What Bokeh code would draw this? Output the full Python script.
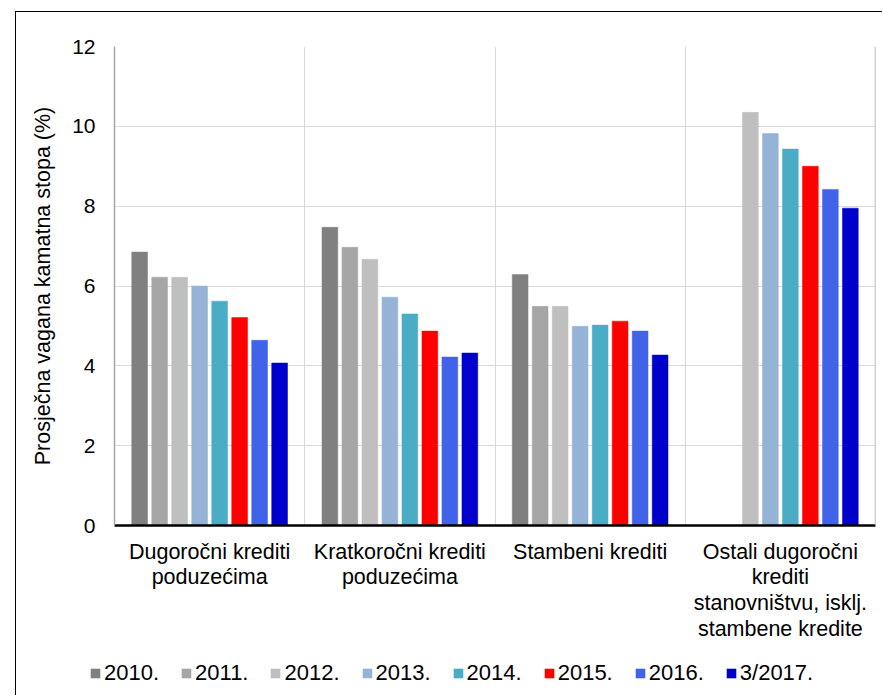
from bokeh.plotting import figure
from bokeh.models import Range1d, FixedTicker, Legend, LegendItem, Span
from bokeh.layouts import column
from bokeh.embed import file_html
from bokeh.resources import INLINE

nan = float("nan")

categories = [
    "Dugoročni krediti\npoduzećima",
    "Kratkoročni krediti\npoduzećima",
    "Stambeni krediti",
    "Ostali dugoročni\nkrediti\nstanovništvu, isklj.\nstambene kredite",
]
years = ["2010.", "2011.", "2012.", "2013.", "2014.", "2015.", "2016.", "3/2017."]

v2010 = [6.85, 7.47, 6.29, nan]
v2011 = [6.22, 6.97, 5.49, nan]
v2012 = [6.22, 6.67, 5.49, 10.35]
v2013 = [6.00, 5.72, 4.99, 9.82]
v2014 = [5.62, 5.30, 5.02, 9.43]
v2015 = [5.21, 4.87, 5.12, 9.00]
v2016 = [4.64, 4.22, 4.87, 8.42]
v2017 = [4.07, 4.32, 4.27, 7.95]
series = [v2010, v2011, v2012, v2013, v2014, v2015, v2016, v2017]

colors = ["#808080", "#a6a6a6", "#bfbfbf", "#95b3d7", "#4bacc6", "#ff0000", "#4163ea", "#0000cc"]
y_ticks = [0, 2, 4, 6, 8, 10, 12]

FONT = "Liberation Sans"

p = figure(width=866, height=638, x_range=Range1d(0, 4), y_range=Range1d(0, 12),
           output_backend="svg", toolbar_location=None,
           min_border_left=98, min_border_right=7, min_border_top=34, min_border_bottom=125)
p.frame_align = False
p.outline_line_color = None
p.background_fill_color = "white"
p.border_fill_color = "white"

step = 0.1051
bw = 0.083
for j, (vals, col) in enumerate(zip(series, colors)):
    xs = [i + 0.5 + (j - 3.5) * step for i in range(len(categories))]
    p.vbar(x=xs, top=vals, width=bw, bottom=0, fill_color=col, line_color=col, line_width=0.5)

# grids
p.ygrid.ticker = FixedTicker(ticks=y_ticks[1:])
p.ygrid.grid_line_color = "#d9d9d9"
p.ygrid.grid_line_width = 1
p.xgrid.ticker = FixedTicker(ticks=[1, 2, 3])
p.xgrid.grid_line_color = "#d9d9d9"
p.xgrid.grid_line_width = 1
p.add_layout(Span(location=4, dimension="height", line_color="#a6a6a6", line_width=1.5))

# y axis
p.yaxis.ticker = FixedTicker(ticks=y_ticks)
p.yaxis.axis_line_color = "#a6a6a6"
p.yaxis.axis_line_width = 1.5
p.yaxis.major_tick_line_color = None
p.yaxis.minor_tick_line_color = None
p.yaxis.major_label_standoff = 13
p.yaxis.major_label_text_font = FONT
p.yaxis.major_label_text_font_size = "21px"
p.yaxis.major_label_text_color = "black"
p.yaxis.axis_label = "Prosječna vagana kamatna stopa (%)"
p.yaxis.axis_label_text_font = FONT
p.yaxis.axis_label_text_font_size = "21.5px"
p.yaxis.axis_label_text_font_style = "normal"
p.yaxis.axis_label_text_color = "black"
p.yaxis.axis_label_standoff = 14

# x axis
p.xaxis.ticker = FixedTicker(ticks=[0.5, 1.5, 2.5, 3.5])
p.xaxis.major_label_overrides = {0.5: categories[0], 1.5: categories[1],
                                 2.5: categories[2], 3.5: categories[3]}
p.xaxis.axis_line_color = "black"
p.xaxis.axis_line_width = 2.5
p.xaxis.major_tick_line_color = None
p.xaxis.minor_tick_line_color = None
p.xaxis.major_label_standoff = 8
p.xaxis.major_label_text_font = FONT
p.xaxis.major_label_text_font_size = "21.5px"
p.xaxis.major_label_text_color = "black"
p.xaxis.major_label_text_line_height = 1.08

# legend strip (separate figure below the chart)
pl = figure(width=866, height=45, x_range=Range1d(0, 1), y_range=Range1d(0, 1),
            output_backend="svg", toolbar_location=None,
            x_axis_type=None, y_axis_type=None,
            min_border_left=0, min_border_right=0, min_border_top=0, min_border_bottom=0)
pl.frame_align = False
pl.outline_line_color = None
pl.grid.visible = False
pl.background_fill_color = "white"
pl.border_fill_color = "white"
items = []
for col, yr in zip(colors, years):
    # swatch-only renderer: zero-height bar far outside the strip's visible range
    r = pl.vbar(x=[-1000], top=[0], bottom=0, width=0.1, fill_color=col, line_color=None)
    items.append(LegendItem(label=yr, renderers=[r]))

legend = Legend(items=items, orientation="horizontal", location=(73, 9),
                glyph_width=12, glyph_height=12, label_standoff=3, spacing=21,
                padding=0, margin=0, border_line_color=None, background_fill_alpha=0,
                label_text_font=FONT, label_text_font_size="22px", label_text_color="black")
pl.add_layout(legend, "center")

layout = column(p, pl, spacing=0, margin=(11, 0, 0, 15),
                styles={"border-left": "1px solid #000000", "border-top": "1px solid #000000"})

open("out.html", "w").write(file_html(layout, INLINE))
